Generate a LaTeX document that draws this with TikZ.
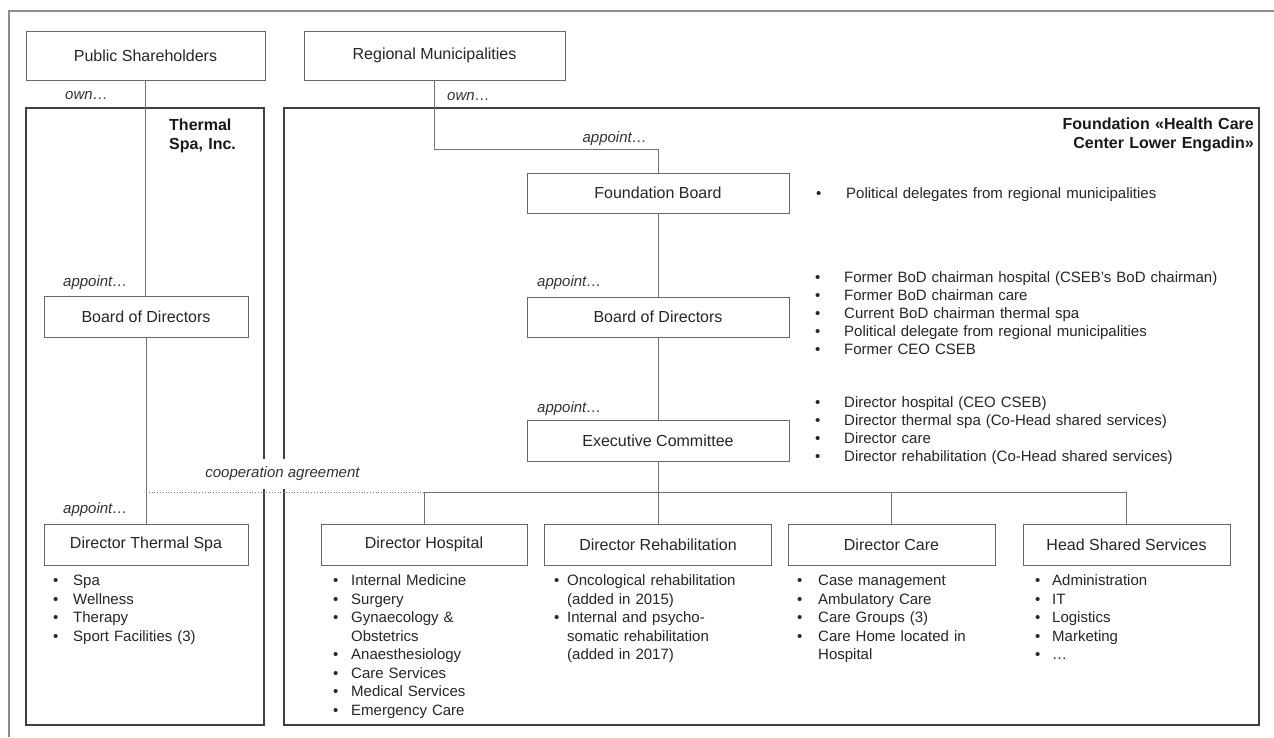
\documentclass[tikz,border=0pt]{standalone}
\usepackage{fontspec}
\setmainfont{Liberation Sans}
\newcommand{\bi}[2]{\makebox[#1][l]{•}#2}
\newcommand{\bc}[2]{\hspace*{#1}#2}
\begin{document}
\begin{tikzpicture}[x=1pt,y=-1pt,
  outer/.style={draw=black!45, line width=1.4pt},
  frame/.style={draw=black!75, line width=1.2pt},
  conn/.style={draw=black!55, line width=0.8pt},
  coop/.style={draw=black!55, line width=0.8pt, dotted},
  box/.style={draw=black!60, line width=0.8pt, fill=white, inner sep=0pt,
    font=\fontsize{16}{19}\selectfont, text=black!85},
  lbl/.style={font=\fontsize{15}{18}\selectfont\itshape, text=black!80, inner sep=0pt},
  title/.style={font=\fontsize{16}{18.5}\selectfont\bfseries, text=black!90, inner sep=0pt},
  blist/.style={anchor=base west, inner sep=0pt, align=left, text width=#1,
    font=\fontsize{15}{18.5}\selectfont, text=black!85},
  blistb/.style={anchor=base west, inner sep=0pt, align=left, text width=#1,
    font=\fontsize{15}{18}\selectfont, text=black!85}]
\useasboundingbox (0,0) rectangle (1274,737);
\fill[white] (0,0) rectangle (1274,737);

% outer frame (partly cut off)
\draw[outer] (9,737) -- (9,11) -- (1274,11);

% organisation frames
\draw[frame] (26,108) rectangle (264,725);
\draw[frame] (284,108) rectangle (1259,725);

% boxes
\node[box, minimum width=239pt, minimum height=49pt] (ps) at (145.5,55.5) {Public Shareholders};
\node[box, minimum width=261pt, minimum height=49pt] (rm) at (434.5,55.5) {Regional Municipalities};
\node[box, minimum width=204pt, minimum height=41pt] (lbod) at (146,316.5) {Board of Directors};
\node[box, minimum width=204pt, minimum height=41pt] (dts) at (146,544.5) {Director Thermal Spa};
\node[box, minimum width=262pt, minimum height=40pt] (fb) at (658,193) {Foundation Board};
\node[box, minimum width=262pt, minimum height=40pt] (fbod) at (658,317) {Board of Directors};
\node[box, minimum width=262pt, minimum height=41pt] (ec) at (658,440.5) {Executive Committee};
\node[box, minimum width=206pt, minimum height=41pt] (dh) at (424,544.5) {Director Hospital};
\node[box, minimum width=227pt, minimum height=41pt] (dr) at (658,544.5) {Director Rehabilitation};
\node[box, minimum width=207pt, minimum height=41pt] (dc) at (891.5,544.5) {Director Care};
\node[box, minimum width=207pt, minimum height=41pt] (hss) at (1126.5,544.5) {Head Shared Services};

\coordinate (bus) at (658,492);

% connectors
\draw[conn] (ps.south) -- (ps.south |- lbod.north);
\draw[conn] (lbod.south) -- (lbod.south |- dts.north);
\draw[conn] (rm.south) -- ++(0,69) -| (fb.north);
\draw[conn] (fb.south) -- (fbod.north);
\draw[conn] (fbod.south) -- (ec.north);
\draw[conn] (ec.south) -- (bus);
\draw[coop] (lbod.south |- bus) -- (dh.north |- bus);
\draw[conn] (dh.north |- bus) -- (hss.north |- bus);
\draw[conn] (dh.north |- bus) -- (dh.north);
\draw[conn] (bus) -- (dr.north);
\draw[conn] (dc.north |- bus) -- (dc.north);
\draw[conn] (hss.north |- bus) -- (hss.north);

% labels
\node[lbl] (own1) at (86.5,96) {own…};
\node[lbl] (own2) at (468.5,97) {own…};
\node[lbl, anchor=east] (ap0) at (647,139) {appoint…};
\node[lbl, anchor=west] (ap1) at (63,283) {appoint…};
\node[lbl, anchor=west] (ap2) at (63,510) {appoint…};
\node[lbl, anchor=west] (ap3) at (537,283) {appoint…};
\node[lbl, anchor=west] (ap4) at (537,409) {appoint…};
\node[lbl, fill=white, minimum height=30pt, inner xsep=3pt] (coopl) at (282.5,474) {cooperation agreement};

% titles
\node[title, anchor=base west, align=left, text width=100pt] (tsit) at (169,130.5) {Thermal\\Spa, Inc.};
\node[title, anchor=base east, align=right, text width=260pt] (fht) at (1254,129.5) {Foundation «Health Care\\Center Lower Engadin»};

% bullet lists
\node[blist=420pt] (fbl) at (816,198.5) {\bi{30pt}{Political delegates from regional municipalities}};
\node[blistb=440pt] (bodl) at (815,282.5) {%
\bi{29pt}{Former BoD chairman hospital (CSEB’s BoD chairman)}\\
\bi{29pt}{Former BoD chairman care}\\
\bi{29pt}{Current BoD chairman thermal spa}\\
\bi{29pt}{Political delegate from regional municipalities}\\
\bi{29pt}{Former CEO CSEB}};
\node[blistb=440pt] (ecl) at (815,407.5) {%
\bi{29pt}{Director hospital (CEO CSEB)}\\
\bi{29pt}{Director thermal spa (Co-Head shared services)}\\
\bi{29pt}{Director care}\\
\bi{29pt}{Director rehabilitation (Co-Head shared services)}};
\node[blist=200pt] (tsl) at (53,585.5) {%
\bi{20pt}{Spa}\\
\bi{20pt}{Wellness}\\
\bi{20pt}{Therapy}\\
\bi{20pt}{Sport Facilities (3)}};
\node[blist=200pt] (dhl) at (333,585.5) {%
\bi{18pt}{Internal Medicine}\\
\bi{18pt}{Surgery}\\
\bi{18pt}{Gynaecology \&}\\
\bc{18pt}{Obstetrics}\\
\bi{18pt}{Anaesthesiology}\\
\bi{18pt}{Care Services}\\
\bi{18pt}{Medical Services}\\
\bi{18pt}{Emergency Care}};
\node[blist=220pt] (drl) at (554,585.5) {%
\bi{13pt}{Oncological rehabilitation}\\
\bc{13pt}{(added in 2015)}\\
\bi{13pt}{Internal and psycho-}\\
\bc{13pt}{somatic rehabilitation}\\
\bc{13pt}{(added in 2017)}};
\node[blist=200pt] (dcl) at (797,585.5) {%
\bi{21pt}{Case management}\\
\bi{21pt}{Ambulatory Care}\\
\bi{21pt}{Care Groups (3)}\\
\bi{21pt}{Care Home located in}\\
\bc{21pt}{Hospital}};
\node[blist=200pt] (hssl) at (1035,585.5) {%
\bi{17pt}{Administration}\\
\bi{17pt}{IT}\\
\bi{17pt}{Logistics}\\
\bi{17pt}{Marketing}\\
\bi{17pt}{…}};
\end{tikzpicture}
\end{document}
